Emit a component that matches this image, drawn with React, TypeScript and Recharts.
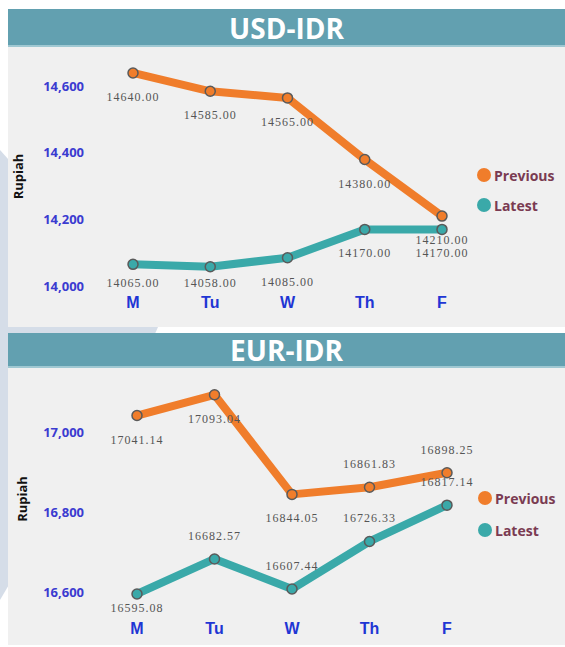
import React from 'react';
import { LineChart, Line, XAxis, YAxis, Legend, LabelList } from 'recharts';

const DAYS = ['M', 'Tu', 'W', 'Th', 'F'];

const USD_PREVIOUS = [14640, 14585, 14565, 14380, 14210];
const USD_LATEST = [14065, 14058, 14085, 14170, 14170];
const USD_TICKS = [14000, 14200, 14400, 14600];

const EUR_PREVIOUS = [17041.14, 17093.04, 16844.05, 16861.83, 16898.25];
const EUR_LATEST = [16595.08, 16682.57, 16607.44, 16726.33, 16817.14];
const EUR_TICKS = [16600, 16800, 17000];

const SERIES_ORDER = ['Previous', 'Latest'];

// where each value label sits relative to its point
const USD_PREV_SIDES = ['below', 'below', 'below', 'below', 'below'];
const USD_LATEST_SIDES = ['below', 'below', 'below', 'below', 'below'];
const EUR_PREV_SIDES = ['below', 'below', 'below', 'above', 'above'];
const EUR_LATEST_SIDES = ['below', 'above', 'above', 'above', 'above'];

const ORANGE = '#f07d2b';
const TEAL = '#3aa9a9';
const HEADER = '#62a0b0';
const PANEL_BG = '#f0f0f0';

const makeLabel = (sides: string[], maxBaseline: number) => (props: any) => {
  const { x, y, value, index } = props;
  const ty = sides[index] === 'above' ? y - 19 : Math.min(y + 28, maxBaseline);
  return (
    <text
      x={x}
      y={ty}
      textAnchor="middle"
      fontFamily="'Liberation Serif', serif"
      fontSize={12}
      letterSpacing={1}
      fill="#555"
    >
      {Number(value).toFixed(2)}
    </text>
  );
};

const makeLegend = (padLeft: number, rowHeight: number) => (props: any) => {
  const items = [...(props.payload || [])].sort(
    (a: any, b: any) => SERIES_ORDER.indexOf(a.value) - SERIES_ORDER.indexOf(b.value)
  );
  return (
    <div style={{ paddingLeft: padLeft }}>
      {items.map((entry: any) => (
        <div key={entry.value} style={{ display: 'flex', alignItems: 'center', height: rowHeight }}>
          <span
            style={{
              display: 'inline-block',
              width: 14,
              height: 14,
              borderRadius: 7,
              background: entry.color,
              marginRight: 3,
            }}
          />
          <span
            style={{
              fontFamily: "'Open Sans', sans-serif",
              fontWeight: 700,
              fontSize: 14,
              color: '#7a3b52',
            }}
          >
            {entry.value}
          </span>
        </div>
      ))}
    </div>
  );
};

const rupiahLabel = (dx: number) => (props: any) => {
  const { x, y, height } = props.viewBox;
  const cx = x + dx;
  const cy = y + height / 2 + 7;
  return (
    <text
      x={cx}
      y={cy}
      transform={`rotate(-90 ${cx} ${cy})`}
      textAnchor="middle"
      dominantBaseline="central"
      fontFamily="'Open Sans', sans-serif"
      fontWeight={700}
      fontSize={13}
      fill="#111"
    >
      Rupiah
    </text>
  );
};

interface PanelProps {
  title: string;
  top: number;
  headerHeight: number;
  bodyHeight: number;
  previous: number[];
  latest: number[];
  ticks: number[];
  domain: [number, number];
  prevSides: string[];
  latestSides: string[];
  maxBaseline: number;
  marginTop: number;
  marginRight: number;
  xAxisHeight: number;
  xTickMargin: number;
  padLeft: number;
  legendTop: number;
  legendPad: number;
  legendRow: number;
  rupiahDx: number;
}

function RatePanel(p: PanelProps) {
  const data = DAYS.map((day, i) => ({ day, Previous: p.previous[i], Latest: p.latest[i] }));
  return (
    <div style={{ position: 'absolute', left: 8, top: p.top, width: 557 }}>
      <div
        style={{
          height: p.headerHeight,
          background: HEADER,
          color: '#fff',
          fontFamily: "'Open Sans', sans-serif",
          fontWeight: 700,
          fontSize: 28,
          lineHeight: `${p.headerHeight}px`,
          textAlign: 'center',
          borderBottom: '2px solid #9fc8d2',
          boxSizing: 'border-box',
        }}
      >
        {p.title}
      </div>
      <div style={{ background: PANEL_BG, height: p.bodyHeight }}>
        <LineChart
          width={557}
          height={p.bodyHeight}
          data={data}
          margin={{ top: p.marginTop, right: p.marginRight, bottom: 0, left: 0 }}
        >
          <XAxis
            dataKey="day"
            axisLine={false}
            tickLine={false}
            tickSize={0}
            tickMargin={p.xTickMargin}
            height={p.xAxisHeight}
            padding={{ left: p.padLeft, right: 0 }}
            interval={0}
            tick={{
              fill: '#1f36d4',
              fontFamily: "'Liberation Sans', Arial, sans-serif",
              fontWeight: 700,
              fontSize: 16,
            }}
          />
          <YAxis
            width={80}
            domain={p.domain}
            ticks={p.ticks}
            allowDataOverflow
            axisLine={false}
            tickLine={false}
            tickSize={0}
            tickMargin={4}
            tickFormatter={(v: number) => v.toLocaleString('en-US')}
            tick={{
              fill: '#3b3bd0',
              fontFamily: "'Open Sans', sans-serif",
              fontWeight: 700,
              fontSize: 13,
            }}
            label={{ content: rupiahLabel(p.rupiahDx) }}
          />
          <Legend
            layout="vertical"
            align="right"
            verticalAlign="top"
            width={115}
            wrapperStyle={{ top: p.legendTop }}
            content={makeLegend(p.legendPad, p.legendRow)}
          />
          <Line
            dataKey="Previous"
            stroke={ORANGE}
            strokeWidth={8}
            strokeLinejoin="round"
            strokeLinecap="round"
            dot={{ r: 5, fill: ORANGE, stroke: '#5a5a5a', strokeWidth: 1.5 }}
            activeDot={false}
            isAnimationActive={false}
          >
            <LabelList dataKey="Previous" content={makeLabel(p.prevSides, p.maxBaseline)} />
          </Line>
          <Line
            dataKey="Latest"
            stroke={TEAL}
            strokeWidth={8}
            strokeLinejoin="round"
            strokeLinecap="round"
            dot={{ r: 5, fill: TEAL, stroke: '#5a5a5a', strokeWidth: 1.5 }}
            activeDot={false}
            isAnimationActive={false}
          >
            <LabelList dataKey="Latest" content={makeLabel(p.latestSides, p.maxBaseline)} />
          </Line>
        </LineChart>
      </div>
    </div>
  );
}

export default function App() {
  return (
    <div
      style={{
        position: 'absolute',
        left: 0,
        top: 0,
        width: 565,
        height: 647,
        background: '#fff',
        overflow: 'hidden',
      }}
    >
      <svg width={565} height={647} style={{ position: 'absolute', left: 0, top: 0 }}>
        <polygon points="0,150 158,327 150,345 0,600" fill="#d5dde8" />
      </svg>
      <RatePanel
        title="USD-IDR"
        top={9}
        headerHeight={38}
        bodyHeight={280}
        previous={USD_PREVIOUS}
        latest={USD_LATEST}
        ticks={USD_TICKS}
        domain={[14000, 14700]}
        prevSides={USD_PREV_SIDES}
        latestSides={USD_LATEST_SIDES}
        maxBaseline={240}
        marginTop={6}
        marginRight={8}
        xAxisHeight={41}
        xTickMargin={11}
        padLeft={45}
        legendTop={113}
        legendPad={35}
        legendRow={30}
        rupiahDx={10}
      />
      <RatePanel
        title="EUR-IDR"
        top={333}
        headerHeight={35}
        bodyHeight={277}
        previous={EUR_PREVIOUS}
        latest={EUR_LATEST}
        ticks={EUR_TICKS}
        domain={[16560, 17140]}
        prevSides={EUR_PREV_SIDES}
        latestSides={EUR_LATEST_SIDES}
        maxBaseline={244}
        marginTop={8}
        marginRight={3}
        xAxisHeight={37}
        xTickMargin={15}
        padLeft={49}
        legendTop={114}
        legendPad={31}
        legendRow={32}
        rupiahDx={14}
      />
    </div>
  );
}
